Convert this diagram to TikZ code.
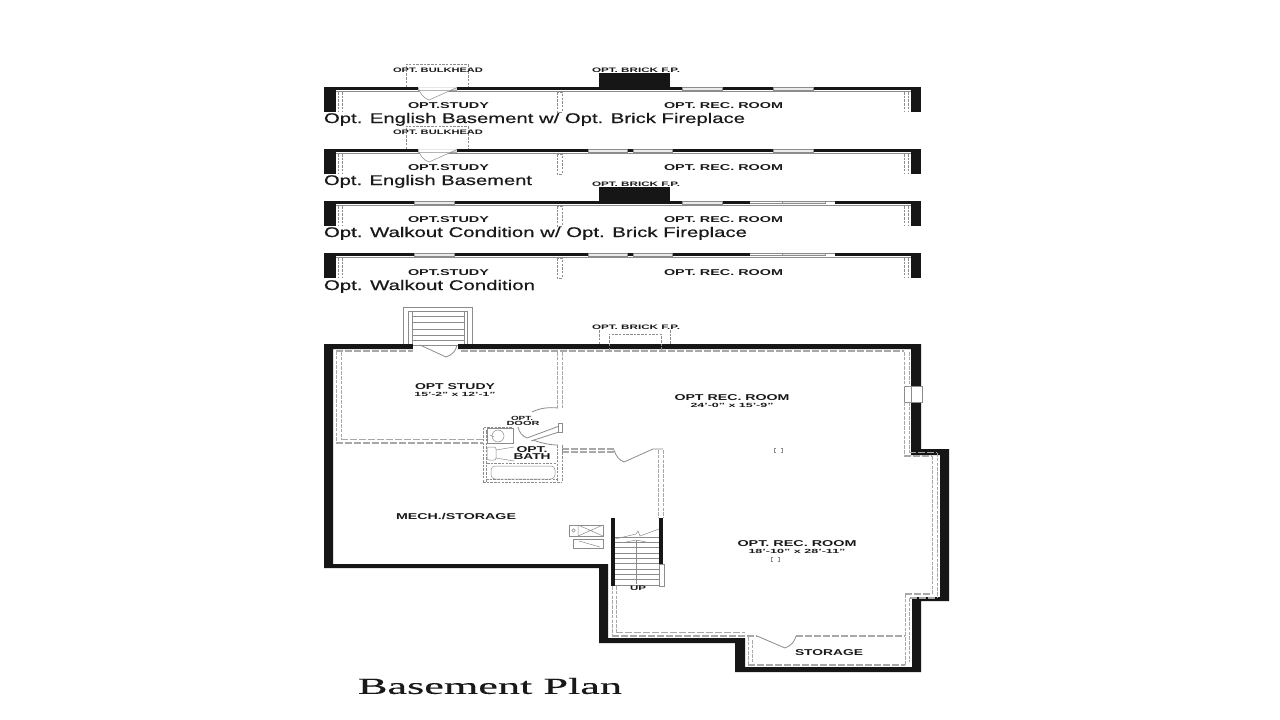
\documentclass[tikz,border=0pt]{standalone}
\usepackage{fontspec}
\setmainfont{Liberation Sans}
\newfontfamily\titlefont[FakeBold=0.3]{Liberation Serif}
\newfontfamily\capfont[FakeBold=0.4]{Liberation Sans}
\usepackage{graphicx}
\definecolor{wall}{HTML}{161616}
\definecolor{dashg}{HTML}{A8A8A8}
\definecolor{lineg}{HTML}{8C8C8C}
\tikzset{
  frame/.style={draw=dashg,line width=0.95pt,dash pattern=on 3.5pt off 1.3pt},
  frameh/.style={draw=dashg,line width=1.05pt,dash pattern=on 7pt off 2pt},
  fine/.style={draw=lineg,line width=0.8pt},
  thin fine/.style={draw=lineg,line width=0.5pt},
  smalldash/.style={draw=lineg,line width=0.8pt,dash pattern=on 2.5pt off 1.2pt},
  gapbox/.style={fill=black!8,draw=lineg,line width=0.5pt},
  lab/.style={inner sep=0pt,outer sep=0pt,text=black!90}
}
% name, x-centre, y-centre, width, size, text
\newcommand{\lbl}[6]{\node[lab] (#1) at (#2,#3) {\fontsize{#5}{#5}\selectfont\bfseries\resizebox{#4pt}{\height}{#6}};}
\newcommand{\cpt}[4]{\node[lab,anchor=base west] (#1) at (324,#2) {\capfont\fontsize{14}{14}\selectfont\resizebox{#3pt}{\height}{#4}};}
% strip: top y
\newcommand{\stripbase}[1]{%
  \fill[wall] (324,#1) rectangle (921,#1+3);
  \fill[wall] (324,#1) rectangle (336,#1+25);
  \fill[wall] (911,#1) rectangle (921,#1+25);
  \draw[fine] (336,#1+4) -- (911,#1+4);
  \draw[smalldash] (338,#1+5) -- (338,#1+25) (342,#1+5) -- (342,#1+25);
  \draw[smalldash] (904,#1+5) -- (904,#1+25) (908,#1+5) -- (908,#1+25);
  \draw[smalldash] (557,#1+5) -- (557,#1+25) -- (562,#1+25) -- (562,#1+5) -- cycle;
}
\newcommand{\gapw}[3]{\draw[gapbox] (#2,#1) rectangle (#3,#1+3);}
\newcommand{\slide}[1]{%
  \fill[white] (750,#1-1) rectangle (835,#1+3);
  \draw[fine] (750,#1) -- (835,#1);
  \draw[gapbox] (782,#1) rectangle (825,#1+2.5);
  \draw[thin fine] (750,#1+2.5) -- (782,#1+2.5);
}
\newcommand{\bulk}[1]{%
  \draw[smalldash] (406,#1) -- (406,#1-23) -- (468,#1-23) -- (468,#1);
  \fill[black!15] (418,#1) rectangle (457,#1+3.5);
  \draw[thin fine,fill=white] (418,#1+3.5) -- (457,#1+3.5) (457,#1+0.5) -- (429,#1+13) .. controls (423,#1+11) and (420,#1+6) .. (418,#1+0.5);
}
\begin{document}
\begin{tikzpicture}[x=1pt,y=-1pt]
\useasboundingbox (0,0) rectangle (1280,720);
\fill[white] (0,0) rectangle (1280,720);

% ---- strip 1
\stripbase{87}
\fill[wall] (599,73) rectangle (670,87);
\gapw{87}{682}{722}\gapw{87}{773}{813}
\bulk{87}
\lbl{bulkA}{438}{70}{90}{6.5}{OPT. BULKHEAD}
\lbl{brickA}{636}{70}{88}{6.5}{OPT. BRICK F.P.}
\lbl{studyA}{448.5}{105.7}{81}{8.5}{OPT.STUDY}
\lbl{recA}{723.5}{105.7}{119}{8.5}{OPT. REC. ROOM}
\cpt{capA}{123}{421}{Opt. English Basement w/ Opt. Brick Fireplace}

% ---- strip 2
\stripbase{149}
\gapw{149}{588}{627}\gapw{149}{633}{672}\gapw{149}{773}{813}
\bulk{149}
\lbl{bulkB}{438}{132}{90}{6.5}{OPT. BULKHEAD}
\lbl{studyB}{448.5}{167.5}{81}{8.5}{OPT.STUDY}
\lbl{recB}{723.5}{167.5}{119}{8.5}{OPT. REC. ROOM}
\cpt{capB}{185}{208}{Opt. English Basement}

% ---- strip 3
\stripbase{201}
\fill[wall] (599,187) rectangle (670,201);
\gapw{201}{414}{454}\gapw{201}{682}{722}
\slide{201}
\lbl{brickC}{636}{184}{88}{6.5}{OPT. BRICK F.P.}
\lbl{studyC}{448.5}{219.7}{81}{8.5}{OPT.STUDY}
\lbl{recC}{723.5}{219.7}{119}{8.5}{OPT. REC. ROOM}
\cpt{capC}{237}{423}{Opt. Walkout Condition w/ Opt. Brick Fireplace}

% ---- strip 4
\stripbase{253}
\gapw{253}{414}{454}\gapw{253}{588}{627}\gapw{253}{633}{672}
\slide{253}
\lbl{studyD}{448.5}{272.5}{81}{8.5}{OPT.STUDY}
\lbl{recD}{723.5}{272.5}{119}{8.5}{OPT. REC. ROOM}
\cpt{capD}{290}{211}{Opt. Walkout Condition}

% ---- main plan walls
\fill[wall,even odd rule]
  (324,344) -- (921,344) -- (921,449) -- (949,449) -- (949,601) -- (921,601) -- (921,672)
  -- (735,672) -- (735,643) -- (599,643) -- (599,568) -- (324,568) -- cycle
  (333,349) -- (911,349) -- (911,455) -- (940,455) -- (940,597) -- (912,597) -- (912,667)
  -- (745,667) -- (745,638) -- (608,638) -- (608,564) -- (333,564) -- cycle;

% bulkhead and door
\fill[white] (413,343) rectangle (458,350);
\draw[fine] (403,344) -- (403,307) -- (472,307) -- (472,344);
\draw[fine] (408,344) -- (408,311) -- (467,311) -- (467,344);
\draw[thin fine] (412,344) -- (412,311) (464,311) -- (464,344);
\foreach \yy in {316,322,329,335,340}{\draw[thin fine] (412,\yy) -- (464,\yy);}
\draw[fine] (420,345) -- (446,357) .. controls (452,355) and (456,351) .. (457,345);
\draw[fine] (413,345) -- (458,345);

% fireplace
\draw[smalldash] (599,344) -- (599,330) (670,330) -- (670,344);
\draw[smalldash] (609,350) -- (609,334) -- (661,334) -- (661,350);
\lbl{brickM}{636}{327}{88}{6.5}{OPT. BRICK F.P.}

% window at right
\draw[gapbox,fill=white] (904,386) rectangle (922,402);
\draw[thin fine] (911,386) -- (911,402);

% framing lines: study
\draw[frameh] (336,351) -- (413,351);
\draw[frameh] (461,351) -- (904,351);
\draw[frame] (336,351) -- (336,443) (341,352) -- (341,439);
\draw[frameh] (336,443) -- (483,443) (341,439.5) -- (483,439.5);
\draw[frame] (557,352) -- (557,408) (562,352) -- (562,408);

% framing lines: right side
\draw[frame] (904,352) -- (904,386) (904,402) -- (904,456);
\draw[frame] (909,352) -- (909,386) (909,402) -- (909,452);
\draw[frameh] (904,456) -- (932,456) (909,452.5) -- (937,452.5);
\draw[frame] (932,456) -- (932,594) (937,453) -- (937,598);
\draw[frameh] (905,594) -- (932,594) (910,598) -- (937,598);
\draw[frame] (905,594) -- (905,665) (909,598) -- (909,662);

% storage
\draw[frameh] (796,636) -- (905,636);
\draw[frameh] (748,665) -- (905,665);
\draw[frame] (748,637) -- (748,665) (752,640) -- (752,662);
\draw[frameh] (612,636) -- (757,636) ;
\draw[fine] (757,636) -- (785,648) .. controls (791,646) and (795,641) .. (796,636);

% framing below stairs
\draw[frame] (612,586) -- (612,636) (616,586) -- (616,632);
\draw[frameh] (616,632.5) -- (745,632.5);

% framing to stair right
\draw[frame] (658,450) -- (658,518) (663,450) -- (663,518);
\draw[frameh] (562,449) -- (614,449) (562,452) -- (614,452);
\draw[fine] (614,450) .. controls (616,456) and (619,460) .. (624,462) -- (653,449) -- (663,449);

% opt door
\draw[fine] (532,412) .. controls (540,408) and (549,407) .. (558,408);
\draw[fine] (562,425) -- (527,438) .. controls (522,436) and (519,432) .. (518,427);
\draw[fine] (562,431) -- (531,441);
\draw[fine,fill=white] (558,423) rectangle (562,432);
\draw[fine] (533,440) .. controls (541,443) and (550,445) .. (558,445);

% bath
\draw[smalldash] (483,482) -- (483,427) -- (512,427) (486,482) -- (486,430);
\draw[smalldash] (483,482) -- (561,482) (486,479) -- (557,479);
\draw[smalldash] (557,445) -- (557,482) (562,445) -- (562,482);
\draw[thin fine] (487,428) rectangle (513,443);
\draw[thin fine] (498,436) circle (6);
\draw[thin fine] (490,435) -- (494,437);
\draw[thin fine,rounded corners=2pt] (487,447) rectangle (496,460);
\draw[thin fine] (496,450) -- (514,447) (496,458) -- (514,461);
\draw[smalldash] (487,463) -- (556,463);
\draw[thin fine,rounded corners=4pt] (491,466) rectangle (555,479);
\lbl{bathA}{532}{450}{31}{8.5}{OPT.}
\lbl{bathB}{532}{456.8}{37}{8.5}{BATH}
\lbl{doorA}{522}{418}{22}{6}{OPT.}
\lbl{doorB}{523}{423.5}{33}{6}{DOOR}

% stairs
\fill[wall] (611,518) rectangle (615,586);
\fill[wall] (659,518) rectangle (663,564);
\draw[gapbox,fill=white] (659,564) rectangle (664,586);
\foreach \yy in {537,542.3,547.6,553,558.3,563.6,569,574.3,579.6,585}{\draw[thin fine] (615,\yy) -- (659,\yy);}
\draw[thin fine] (615,539) -- (636,534) -- (638,531) -- (640,536) -- (659,529);
\draw[fine] (636,584) -- (636,540);
\draw[thin fine] (626,542) -- (636,540) -- (646,542);
\lbl{upL}{638}{588}{16}{6.5}{UP}

% hvac
\draw[fine] (569,525) rectangle (603,536);
\draw[thin fine] (578,525) -- (578,536) (578,525) -- (603,536) (578,536) -- (603,525);
\draw[thin fine] (573.5,530.5) circle (1.8);
\draw[fine] (573,539) rectangle (603,548);
\draw[thin fine] (579,541) -- (600,547);

% ceiling marks
\draw[thin fine] (775.5,448) -- (774,448) -- (774,452) -- (775.5,452) (780.5,448) -- (782,448) -- (782,452) -- (780.5,452);
\draw[thin fine] (772.5,557) -- (771,557) -- (771,561) -- (772.5,561) (777.5,557) -- (779,557) -- (779,561) -- (777.5,561);

% labels main
\lbl{studyM}{455}{386.8}{80}{8.5}{OPT STUDY}
\lbl{studyDim}{455}{394}{81}{6}{15'-2" x 12'-1"}
\lbl{recM}{732}{397.8}{115}{8.5}{OPT REC. ROOM}
\lbl{recDim}{732}{405}{83}{6}{24'-0" x 15'-9"}
\lbl{recN}{797}{543.8}{119}{8.5}{OPT. REC. ROOM}
\lbl{recNDim}{797}{551}{97}{6}{18'-10" x 28'-11"}
\lbl{mech}{456}{517}{120}{8.5}{MECH./STORAGE}
\lbl{stor}{829}{653}{68}{8.5}{STORAGE}

% title
\node[lab] (title) at (490,686) {\titlefont\fontsize{23}{23}\selectfont\resizebox{264pt}{\height}{Basement Plan}};
\end{tikzpicture}
\end{document}
